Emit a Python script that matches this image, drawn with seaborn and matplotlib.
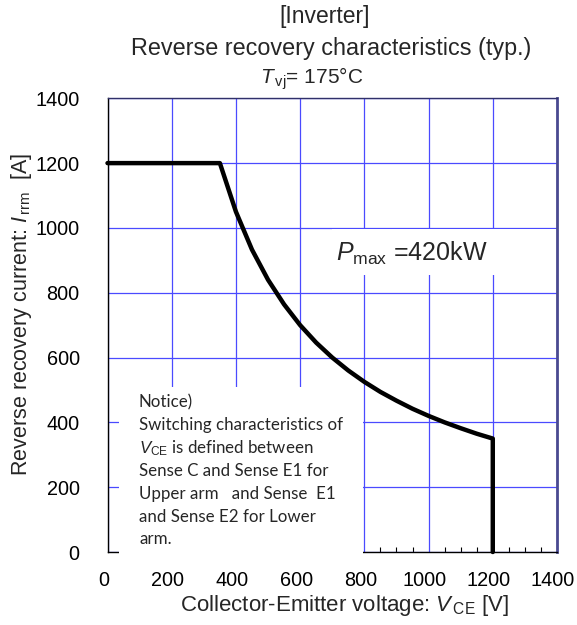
import matplotlib
matplotlib.use("Agg")
import matplotlib.pyplot as plt
import matplotlib.transforms as mtransforms
from matplotlib.patches import Rectangle
import seaborn as sns
import pandas as pd

# Safe operating curve: flat current limit, constant-power section, voltage limit
voltage = [0, 350, 400, 450, 500, 550, 600, 650, 700, 750, 800, 850, 900,
           950, 1000, 1050, 1100, 1150, 1200, 1200]
current = [1200, 1200, 1050, 933, 840, 764, 700, 646, 600, 560, 525, 494, 467,
           442, 420, 400, 382, 365, 350, 0]

x_ticks = [0, 200, 400, 600, 800, 1000, 1200, 1400]
y_ticks = [0, 200, 400, 600, 800, 1000, 1200, 1400]

notice_lines = [
    "Notice)",
    "Switching characteristics of",
    r"$V_{\mathrm{CE}}$ is defined between",
    "Sense C and Sense E1 for",
    "Upper arm   and Sense  E1",
    "and Sense E2 for Lower",
    "arm.",
]

sns.set_theme(style="white")
plt.rcParams["font.family"] = ["Liberation Sans", "DejaVu Sans"]
plt.rcParams["mathtext.fontset"] = "custom"
plt.rcParams["mathtext.rm"] = "Liberation Sans"
plt.rcParams["mathtext.it"] = "Liberation Sans:italic"

W, H = 577, 625
fig = plt.figure(figsize=(W / 100, H / 100), dpi=100)
L, R, T, B = 107.5, 557.0, 98.3, 552.0
ax = fig.add_axes([L / W, 1 - B / H, (R - L) / W, (B - T) / H])

df = pd.DataFrame({"V": voltage, "I": current})
sns.lineplot(data=df, x="V", y="I", sort=False, estimator=None, color="black",
             linewidth=3.2, ax=ax, zorder=2, clip_on=False)

ax.set_xlim(0, 1400)
ax.set_ylim(0, 1400)
ax.set_xticks(x_ticks)
ax.set_yticks(y_ticks)
ax.set_xticks(range(0, 1401, 50), minor=True)
ax.grid(True, which="major", color="#4a4aff", linewidth=0.9)
ax.tick_params(axis="both", which="major", direction="in", length=0,
               labelsize=14.3, colors="black")
ax.tick_params(axis="x", which="major", pad=14)
ax.tick_params(axis="y", which="major", pad=20)
ax.tick_params(axis="x", which="minor", direction="in", length=3.5,
               width=0.8, color="black", bottom=True)

# x tick labels sit slightly left of their tick positions
shift = mtransforms.ScaledTranslation(-4 / 100, 0, fig.dpi_scale_trans)
for lbl in ax.get_xticklabels():
    lbl.set_transform(lbl.get_transform() + shift)

for side in ["left", "bottom"]:
    ax.spines[side].set_color("black")
    ax.spines[side].set_linewidth(1.0)
ax.spines["top"].set_color("#30306a")
ax.spines["top"].set_linewidth(1.0)
ax.spines["right"].set_color("#4a4a90")
ax.spines["right"].set_linewidth(2.0)

ax.set_xlabel(r"Collector-Emitter voltage: $V_{\,\mathrm{CE}}$ [V]", fontsize=16)
ax.set_ylabel(r"Reverse recovery current: $I_{\,\mathrm{rrm}}$  [A]", fontsize=15.5)
ax.xaxis.set_label_coords((345 - L) / (R - L), (B - 606) / (B - T))
ax.yaxis.set_label_coords((22 - L) / (R - L), (B - 314) / (B - T))
ax.xaxis.label.set_va("center")
ax.yaxis.label.set_va("center")

# Titles above the plot area
fig.text(325 / W, 1 - 17 / H, "[Inverter]", ha="center", va="center", fontsize=16.5)
fig.text(331 / W, 1 - 48 / H, "Reverse recovery characteristics (typ.)",
         ha="center", va="center", fontsize=16.8)
fig.text(312 / W, 1 - 79 / H, r"$T_{\,\mathrm{vj}}$= 175°C",
         ha="center", va="center", fontsize=15)

# Power annotation on a white panel over the grid
ax.add_patch(Rectangle((0.5, (B - 275) / (B - T)), 0.5, 46 / (B - T),
                       transform=ax.transAxes, facecolor="white",
                       edgecolor="none", zorder=1.8))
ax.text((336 - L) / (R - L), (B - 253) / (B - T),
        r"$P_{\mathrm{max}}$ =420kW", transform=ax.transAxes,
        ha="left", va="center", fontsize=18, zorder=3)

# Notice panel in the lower-left corner
ax.add_patch(Rectangle(((119 - L) / (R - L), (B - 559) / (B - T)),
                       (363 - 119) / (R - L), (559 - 387) / (B - T),
                       transform=ax.transAxes, facecolor="white",
                       edgecolor="none", zorder=3, clip_on=False))
line_y = [402, 425, 448, 471, 494, 517, 539]
for txt, yp in zip(notice_lines, line_y):
    ax.text((139 - L) / (R - L), (B - yp) / (B - T), txt,
            transform=ax.transAxes, ha="left", va="center", fontsize=12.2,
            family=["Lato", "DejaVu Sans"], zorder=4)

fig.savefig("out.png", dpi=100)
